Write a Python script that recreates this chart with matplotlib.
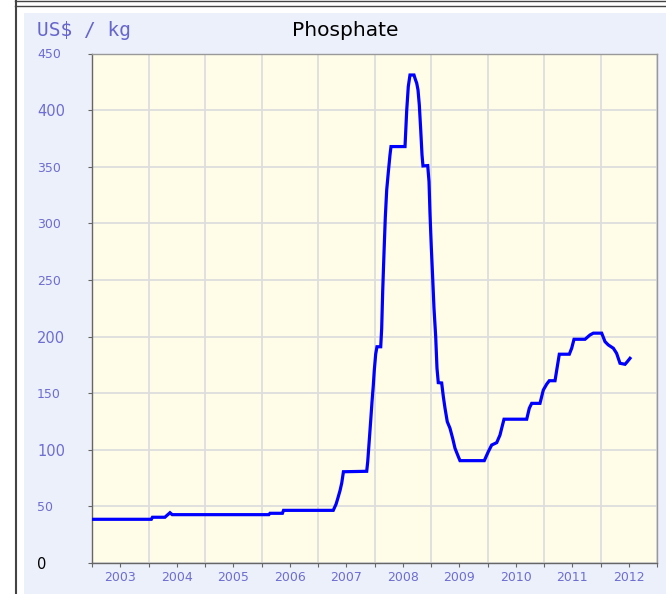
import matplotlib

matplotlib.use("Agg")
import matplotlib.pyplot as plt
from matplotlib.lines import Line2D
from matplotlib.patches import Rectangle
from matplotlib.transforms import ScaledTranslation

# phosphate price (decimal year, US$)
DATES = [
    2003.00, 2004.05, 2004.07, 2004.29, 2004.38, 2004.42, 2006.13, 2006.15,
    2006.37, 2006.39, 2007.27, 2007.32, 2007.35, 2007.39, 2007.42, 2007.45,
    2007.862, 2007.880, 2007.908, 2007.933, 2007.956, 2007.979, 2007.996,
    2008.021, 2008.044, 2008.110, 2008.127, 2008.145, 2008.168, 2008.191,
    2008.216, 2008.244, 2008.274, 2008.292, 2008.540, 2008.570, 2008.598,
    2008.628, 2008.699, 2008.722, 2008.747, 2008.770, 2008.793, 2008.818,
    2008.841, 2008.858, 2008.942, 2008.965, 2008.982, 2009.005, 2009.030,
    2009.053, 2009.083, 2009.106, 2009.129, 2009.189, 2009.218, 2009.248,
    2009.288, 2009.336, 2009.384, 2009.425, 2009.483, 2009.513, 2009.943,
    2010.014, 2010.074, 2010.163, 2010.221, 2010.251, 2010.292, 2010.694,
    2010.740, 2010.782, 2010.929, 2010.988, 2011.048, 2011.094, 2011.195,
    2011.235, 2011.271, 2011.448, 2011.490, 2011.531, 2011.726, 2011.814,
    2011.873, 2012.021, 2012.080, 2012.138, 2012.227, 2012.285, 2012.345,
    2012.434, 2012.474, 2012.522,
]
PRICES = [
    38.6, 38.6, 40.4, 40.4, 44.4, 42.7, 42.7, 43.9,
    43.9, 46.5, 46.5, 52.0, 57.0, 64.0, 70.6, 80.6,
    81.0, 89.5, 108.7, 126.0, 142.5, 157.0, 170.0,
    184.6, 191.0, 191.0, 207.0, 240.0, 273.6, 305.0,
    329.5, 344.8, 360.4, 367.8, 367.8, 399.6, 420.8,
    431.0, 431.0, 427.3, 423.8, 417.8, 404.6, 382.5,
    360.4, 350.7, 351.0, 336.8, 309.0, 279.4, 251.5,
    225.0, 200.0, 172.0, 159.3, 159.0, 147.0, 136.7,
    124.8, 119.0, 110.0, 101.3, 94.0, 90.4, 90.4,
    98.3, 104.2, 106.3, 113.0, 119.0, 127.0, 127.0,
    136.7, 141.0, 141.0, 152.8, 158.0, 161.0, 161.0,
    173.4, 184.4, 184.4, 189.7, 197.6, 197.6, 201.4,
    203.0, 203.0, 195.5, 192.6, 189.7, 185.2, 176.4,
    175.5, 177.8, 180.8,
]
YEARS = list(range(2003, 2013))
Y_TICKS = [0, 50, 100, 150, 200, 250, 300, 350, 400, 450]

W, H = 666, 594
PANEL = "#ecf0fa"
PLOT_BG = "#fffde8"
LABEL_BLUE = "#6d6dd2"


def fx(px):
    return px / W


def fy(py):
    return 1 - py / H


fig = plt.figure(figsize=(W / 100, H / 100), dpi=100)
fig.patch.set_facecolor("white")

# light panel + the thin frame lines of the original applet
fig.patches.append(
    Rectangle((fx(24), 0), fx(W) - fx(24), fy(12.7), transform=fig.transFigure,
              facecolor=PANEL, edgecolor="none", zorder=-10)
)
for y in (1.0, 5.5):
    fig.lines.append(Line2D([fx(15), 1], [fy(y), fy(y)], transform=fig.transFigure,
                            color="#444444", lw=1.0, zorder=-5))
fig.lines.append(Line2D([fx(15.5), fx(15.5)], [0, fy(1)], transform=fig.transFigure,
                        color="#444444", lw=1.5, zorder=-5))

ax = fig.add_axes([fx(92), fy(563), fx(657) - fx(92), fy(53.5) - fy(563)])
ax.set_facecolor(PLOT_BG)
ax.plot(DATES, PRICES, color="#0000ff", lw=2.3, solid_joinstyle="miter", zorder=3)

ax.set_xlim(2003, 2013)
ax.set_ylim(0, 450)

# year gridlines at Jan 1, labels sit mid-year
ax.set_xticks(range(2003, 2014))
ax.set_xticklabels([])
ax.set_xticks([y + 0.5 for y in YEARS], minor=True)
ax.set_xticklabels([str(y) for y in YEARS], minor=True, color=LABEL_BLUE, fontsize=9)
for lab in ax.get_xticklabels(minor=True):
    lab.set_transform(lab.get_transform() + ScaledTranslation(-5 / 100, 0, fig.dpi_scale_trans))
ax.tick_params(axis="x", which="both", direction="out", length=3, width=0.8,
               color="#666666", pad=3)

# y labels are left-aligned near the panel edge (x ~ 37 px)
ax.set_yticks(Y_TICKS)
ax.set_yticklabels([str(v) for v in Y_TICKS], ha="left")
ax.tick_params(axis="y", direction="out", length=3, width=0.8, color="#666666",
               pad=(92 - 37 - 4.2) * 0.72)
big = {0, 100, 200, 400}
for v, lab in zip(Y_TICKS, ax.get_yticklabels()):
    lab.set_color("black" if v == 0 else LABEL_BLUE)
    lab.set_fontsize(10.5 if v in big else 9)

ax.grid(True, which="major", color="#dddddd", lw=1.3, zorder=1)
ax.set_axisbelow(True)
for side in ("left", "bottom"):
    ax.spines[side].set_color("#666666")
for side in ("top", "right"):
    ax.spines[side].set_color("#999999")
for sp in ax.spines.values():
    sp.set_linewidth(1.0)

fig.text(fx(37), fy(31), "US$ / kg", fontsize=14, family="DejaVu Sans Mono",
         color="#6666cc", ha="left", va="center")
fig.text(fx(345), fy(31), "Phosphate", fontsize=14.5, color="black",
         ha="center", va="center")

fig.savefig("out.png", dpi=100, facecolor=fig.get_facecolor())
